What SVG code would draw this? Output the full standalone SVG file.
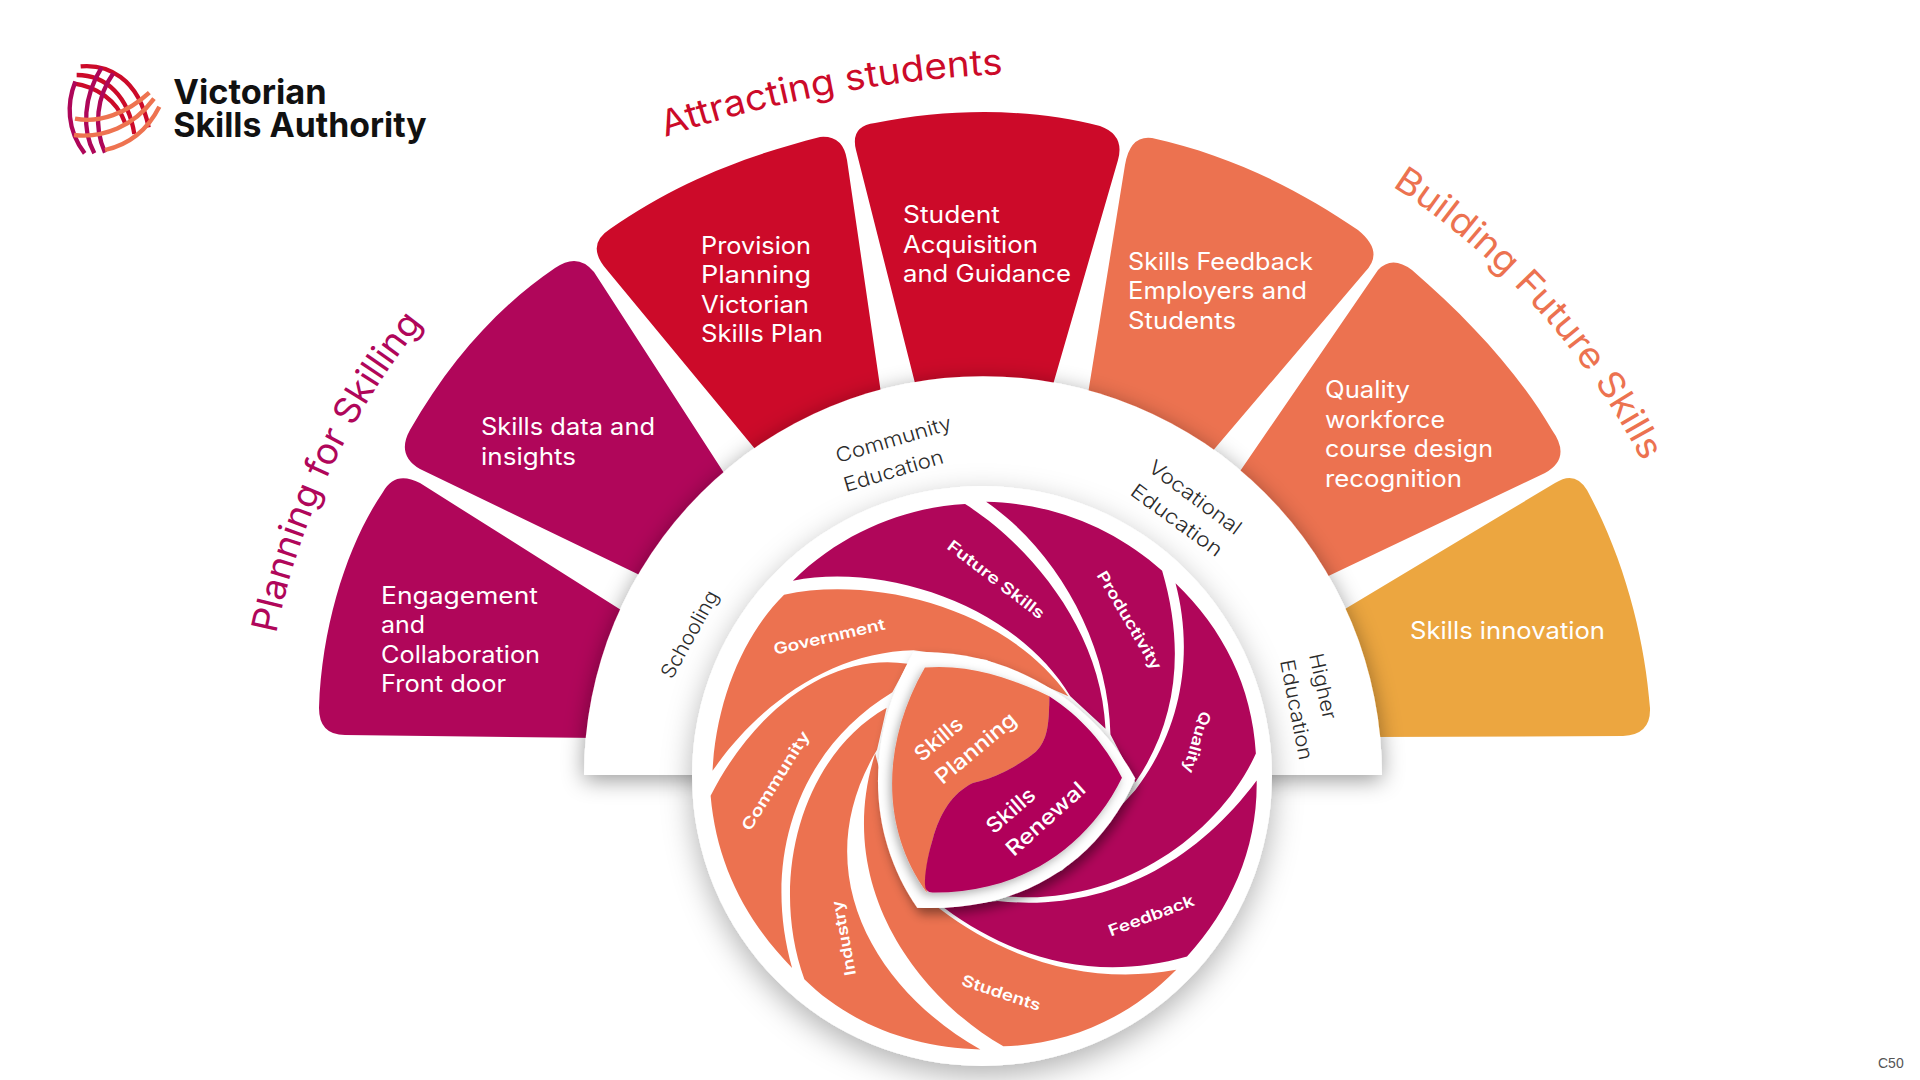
<svg xmlns="http://www.w3.org/2000/svg" width="1920" height="1080" viewBox="0 0 1920 1080">
<style>
text{font-family:Inter,"Liberation Sans",sans-serif}
.m{fill:#b0065a}.r{fill:#cc0a29}.o{fill:#ec7250}.g{fill:#eca640}
.lb{fill:#fff;font-size:24px;font-weight:400}
.ring{fill:#2b2b2b;font-size:20px;font-weight:300}
.pt{fill:#fff;font-size:41px;font-weight:600}
.cn{fill:#fff;font-size:55px;font-weight:500}
.ttl{font-size:36px;font-weight:400}
.lr{fill:none;stroke:#cc0a29;stroke-width:13}
.lm{fill:none;stroke:#ae0659;stroke-width:13}
.lo{fill:none;stroke:#ee7350;stroke-width:13}
</style>
<defs>
<filter id="sh" x="-15%" y="-15%" width="130%" height="130%"><feDropShadow dx="0" dy="5" stdDeviation="11" flood-color="#000" flood-opacity=".4"/></filter>
<filter id="shc" x="-15%" y="-15%" width="130%" height="130%"><feDropShadow dx="0" dy="10" stdDeviation="15" flood-color="#000" flood-opacity=".3"/></filter>
<filter id="sh2" x="-20%" y="-20%" width="140%" height="140%"><feDropShadow dx="8" dy="16" stdDeviation="14" flood-color="#000" flood-opacity=".42"/></filter>
<filter id="sh3" x="-20%" y="-20%" width="140%" height="140%"><feDropShadow dx="-6" dy="8" stdDeviation="12" flood-color="#000" flood-opacity=".32"/></filter>
<path id="pa" d="M276 634A722 722 0 0 1 425 321"/>
<path id="pb" d="M665 137Q830 82 1005 74"/>
<path id="pc" d="M1392 186A724 724 0 0 1 1641 459"/>
</defs>
<rect width="1920" height="1080" fill="#fff"/>

<g id="logo" transform="translate(50 40) scale(.3333)">
<path class="lr" d="M92 79C170 72 265 110 296 262"/>
<path class="lr" d="M80 105C170 105 235 170 253 282"/>
<path class="lr" d="M70 130C140 140 200 180 225 248"/>
<path class="lm" d="M104 340C50 270 50 190 76 125"/>
<path class="lm" d="M133 340C95 270 100 170 155 82"/>
<path class="lm" d="M165 338C130 260 140 170 190 100"/>
<path class="lo" d="M75 236C150 250 230 220 298 158"/>
<path class="lo" d="M72 285C160 295 250 260 312 176"/>
<path class="lo" d="M165 330C230 315 290 275 328 200"/>
<text x="370" y="192" font-size="102" font-weight="700" fill="#111" textLength="460" lengthAdjust="spacingAndGlyphs">Victorian</text>
<text x="370" y="290" font-size="102" font-weight="700" fill="#111" textLength="760" lengthAdjust="spacingAndGlyphs">Skills Authority</text>
</g>

<g id="titles">
<text class="ttl" fill="#b0065a"><textPath href="#pa" textLength="347" lengthAdjust="spacingAndGlyphs">Planning for Skilling</textPath></text>
<text class="ttl" fill="#cc0a29"><textPath href="#pb" textLength="345" lengthAdjust="spacingAndGlyphs">Attracting students</textPath></text>
<text class="ttl" fill="#ec7250"><textPath href="#pc" textLength="377" lengthAdjust="spacingAndGlyphs">Building Future Skills</textPath></text>
</g>

<g id="s1"><path class="m" d="M600 738L345 735Q319 735 319 708C322 620 350 540 383 492Q395 470 420 483L640 622Z"/>
<text class="lb" x="381" y="604" textLength="157" lengthAdjust="spacingAndGlyphs">Engagement</text>
<text class="lb" x="381" y="633" textLength="44" lengthAdjust="spacingAndGlyphs">and</text>
<text class="lb" x="381" y="663" textLength="159" lengthAdjust="spacingAndGlyphs">Collaboration</text>
<text class="lb" x="381" y="692" textLength="125" lengthAdjust="spacingAndGlyphs">Front door</text></g>
<g id="s2"><path class="m" d="M650 580L420 469Q396 455 410 430C450 360 500 305 555 268Q578 252 594 272L735 490Z"/>
<text class="lb" x="481" y="435" textLength="174" lengthAdjust="spacingAndGlyphs">Skills data and</text>
<text class="lb" x="481" y="465" textLength="95" lengthAdjust="spacingAndGlyphs">insights</text></g>
<g id="s3"><path class="r" d="M760 455L607 270Q585 245 610 229C680 180 750 155 820 137Q843 135 847 160L882 400Z"/>
<text class="lb" x="701" y="254" textLength="110" lengthAdjust="spacingAndGlyphs">Provision</text>
<text class="lb" x="701" y="283" textLength="110" lengthAdjust="spacingAndGlyphs">Planning</text>
<text class="lb" x="701" y="313" textLength="108" lengthAdjust="spacingAndGlyphs">Victorian</text>
<text class="lb" x="701" y="342" textLength="122" lengthAdjust="spacingAndGlyphs">Skills Plan</text></g>
<g id="s4"><path class="r" d="M918 395L856 150Q850 126 875 123C950 108 1030 108 1100 126Q1125 135 1118 160L1050 395Z"/>
<text class="lb" x="903" y="223" textLength="97" lengthAdjust="spacingAndGlyphs">Student</text>
<text class="lb" x="903" y="253" textLength="135" lengthAdjust="spacingAndGlyphs">Acquisition</text>
<text class="lb" x="903" y="282" textLength="168" lengthAdjust="spacingAndGlyphs">and Guidance</text></g>
<g id="s5"><path class="o" d="M1087 400L1125 165Q1130 135 1152 138C1230 155 1300 190 1358 230Q1385 252 1365 272L1205 460Z"/>
<text class="lb" x="1128" y="270" textLength="185" lengthAdjust="spacingAndGlyphs">Skills Feedback</text>
<text class="lb" x="1128" y="299" textLength="179" lengthAdjust="spacingAndGlyphs">Employers and</text>
<text class="lb" x="1128" y="329" textLength="108" lengthAdjust="spacingAndGlyphs">Students</text></g>
<g id="s6"><path class="o" d="M1234 480L1378 270Q1392 255 1412 270C1470 320 1520 375 1552 430Q1572 458 1545 473L1320 580Z"/>
<text class="lb" x="1325" y="398" textLength="85" lengthAdjust="spacingAndGlyphs">Quality</text>
<text class="lb" x="1325" y="428" textLength="120" lengthAdjust="spacingAndGlyphs">workforce</text>
<text class="lb" x="1325" y="457" textLength="168" lengthAdjust="spacingAndGlyphs">course design</text>
<text class="lb" x="1325" y="487" textLength="137" lengthAdjust="spacingAndGlyphs">recognition</text></g>
<g id="s7"><path class="g" d="M1340 612L1555 483Q1575 470 1587 490C1625 560 1645 640 1650 708Q1651 735 1623 736L1370 737Z"/>
<text class="lb" x="1410" y="639" textLength="195" lengthAdjust="spacingAndGlyphs">Skills innovation</text></g>

<g id="ring"><path d="M584 775A399 399 0 0 1 1382 775Z" fill="#fff" filter="url(#sh)"/>
<text class="ring" transform="translate(838 463) rotate(-16.5)" textLength="120" lengthAdjust="spacingAndGlyphs">Community</text>
<text class="ring" transform="translate(846 492) rotate(-16.5)" textLength="103" lengthAdjust="spacingAndGlyphs">Education</text>
<text class="ring" transform="translate(672 680) rotate(-61)" textLength="97" lengthAdjust="spacingAndGlyphs">Schooling</text>
<text class="ring" transform="translate(1147 470) rotate(36.6)" textLength="110" lengthAdjust="spacingAndGlyphs">Vocational</text>
<text class="ring" transform="translate(1129 494) rotate(36)" textLength="108" lengthAdjust="spacingAndGlyphs">Education</text>
<text class="ring" transform="translate(1309 655) rotate(77.6)" textLength="67" lengthAdjust="spacingAndGlyphs">Higher</text>
<text class="ring" transform="translate(1280 661) rotate(79)" textLength="102" lengthAdjust="spacingAndGlyphs">Education</text></g>

<g id="wheel"><circle cx="982" cy="776" r="290" fill="#fff" filter="url(#shc)"/>
<g transform="translate(680 480) scale(.38265)">
<g id="p-future"><path class="m" d="M295 263C430 130 600 70 745 63C900 160 1100 380 1112 650L1020 565C880 330 540 215 295 263Z"/>
<text class="pt" transform="translate(695 178) rotate(37.4)" textLength="308" lengthAdjust="spacingAndGlyphs">Future Skills</text></g>
<g id="p-productivity"><path class="m" d="M800 57C980 60 1140 130 1260 237C1320 440 1300 630 1190 790L1125 665C1120 420 980 180 800 57Z"/>
<text class="pt" transform="translate(1088 248) rotate(59.5)" textLength="292" lengthAdjust="spacingAndGlyphs">Productivity</text></g>
<g id="p-quality"><path class="m" d="M1295 270C1420 390 1495 540 1505 715C1400 945 1120 1125 830 1085L1000 1020L1190 810C1320 640 1340 440 1295 270Z"/>
<text class="pt" transform="translate(1360 602) rotate(106)" textLength="165" lengthAdjust="spacingAndGlyphs">Quality</text></g>
<g id="p-feedback"><path class="m" d="M1507 785C1510 960 1440 1120 1325 1245C1100 1310 880 1260 690 1118L830 1100C1100 1130 1340 1010 1507 785Z"/>
<text class="pt" transform="translate(1126 1193) rotate(-20.5)" textLength="236" lengthAdjust="spacingAndGlyphs">Feedback</text></g>
<g id="p-students"><path class="o" d="M1297 1280C1170 1410 1010 1475 845 1480C620 1350 400 1060 510 715L620 1118H675C860 1260 1080 1320 1297 1280Z"/>
<text class="pt" transform="translate(733 1320) rotate(18.4)" textLength="215" lengthAdjust="spacingAndGlyphs">Students</text></g>
<g id="p-industry"><path class="o" d="M325 1305C440 1420 610 1485 785 1488C520 1340 320 1030 515 705L540 595C320 720 230 1040 325 1305Z"/>
<text class="pt" transform="translate(460 1292) rotate(-100.4)" textLength="198" lengthAdjust="spacingAndGlyphs">Industry</text></g>
<g id="p-community"><path class="o" d="M80 825C95 1000 170 1150 293 1275C215 1000 300 710 555 555L595 480C400 450 200 590 80 825Z"/>
<text class="pt" transform="translate(183 920) rotate(-58)" textLength="298" lengthAdjust="spacingAndGlyphs">Community</text></g>
<g id="p-government"><path class="o" d="M272 300C170 400 95 570 85 760C210 580 400 450 610 445L800 470L1015 565C850 330 500 250 272 300Z"/>
<text class="pt" transform="translate(248 457) rotate(-13)" textLength="298" lengthAdjust="spacingAndGlyphs">Government</text></g>
<g id="centre">
<path d="M610 450C840 440 1070 560 1190 780C1090 1010 880 1130 620 1118C490 930 480 680 610 450Z" fill="#fff" filter="url(#sh2)"/>
<g filter="url(#sh3)">
<path class="o" d="M640 490C760 480 870 520 965 565C965 640 960 680 930 710C880 750 820 780 765 792C710 820 680 870 660 940C645 990 640 1040 645 1078C530 920 520 700 640 490Z"/>
<path class="m" d="M965 565C1050 620 1110 690 1155 778C1060 970 880 1080 660 1078Q640 1078 640 1055C640 1030 645 990 660 940C680 870 710 820 765 792C820 780 880 750 930 710C960 680 965 640 965 565Z"/>
</g>
<text class="cn" transform="translate(632 738) rotate(-40)" textLength="146" lengthAdjust="spacingAndGlyphs">Skills</text>
<text class="cn" transform="translate(686 798) rotate(-40)" textLength="258" lengthAdjust="spacingAndGlyphs">Planning</text>
<text class="cn" transform="translate(820 927) rotate(-41)" textLength="150" lengthAdjust="spacingAndGlyphs">Skills</text>
<text class="cn" transform="translate(872 986) rotate(-42)" textLength="258" lengthAdjust="spacingAndGlyphs">Renewal</text>
</g>
</g></g>
<text x="1878" y="1068" font-size="14" fill="#555" style="font-family:'Liberation Sans',sans-serif">C50</text>
</svg>
